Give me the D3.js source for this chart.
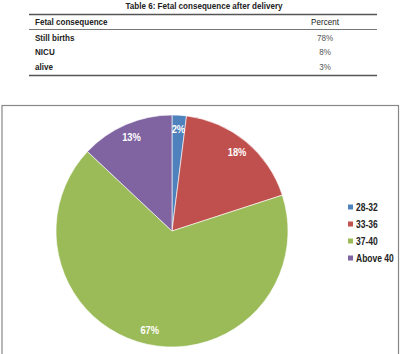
<!DOCTYPE html>
<html>
<head>
<meta charset="utf-8">
<script src="https://cdn.jsdelivr.net/npm/d3@7"></script>
<style>
  body { margin: 0; background: #fff; }
  svg { display: block; font-family: "Liberation Sans", Arial, sans-serif; }
</style>
</head>
<body>
<script>
// table data
const tableTitle = "Table 6: Fetal consequence after delivery";
const tableHeader = ["Fetal consequence", "Percent"];
const outcomes = ["Still births", "NICU", "alive"];
const outcomePercent = ["78%", "8%", "3%"];

// pie data
const ageGroups = ["28-32", "33-36", "37-40", "Above 40"];
const agePercent = [2, 18, 67, 13];
const sliceColors = ["#4F81BD", "#C0504D", "#9BBB59", "#8064A2"];

const width = 408;
const height = 354;
const sx = 0.85; // squeeze text a bit, source uses a narrow face

const svg = d3.select("body").append("svg")
  .attr("width", width)
  .attr("height", height);

const at = (x, y) => `translate(${x},${y}) scale(${sx},1)`;

// ---- table ----
const tbl = svg.append("g");
const tx0 = 29, tx1 = 377;

tbl.append("text")
  .attr("transform", at(204, 9))
  .attr("text-anchor", "middle")
  .attr("font-size", 9.5).attr("font-weight", "bold")
  .attr("fill", "#222")
  .text(tableTitle);

tbl.append("line").attr("x1", tx0).attr("x2", tx1).attr("y1", 14.5).attr("y2", 14.5)
  .attr("stroke", "#555").attr("stroke-width", 1.5);
tbl.append("line").attr("x1", tx0).attr("x2", tx1).attr("y1", 29.5).attr("y2", 29.5)
  .attr("stroke", "#777").attr("stroke-width", 1);
tbl.append("line").attr("x1", tx0).attr("x2", tx1).attr("y1", 75.5).attr("y2", 75.5)
  .attr("stroke", "#555").attr("stroke-width", 1.5);

tbl.append("text").attr("transform", at(35, 25))
  .attr("font-size", 9.5).attr("font-weight", "bold").attr("fill", "#222")
  .text(tableHeader[0]);
tbl.append("text").attr("transform", at(325, 25))
  .attr("text-anchor", "middle")
  .attr("font-size", 9.5).attr("fill", "#222")
  .text(tableHeader[1]);

const rowY = d3.scalePoint().domain(outcomes).range([40.5, 70]);

tbl.selectAll("text.rowlabel")
  .data(outcomes)
  .enter().append("text")
  .attr("class", "rowlabel")
  .attr("transform", d => at(35, rowY(d)))
  .attr("font-size", 9.5).attr("font-weight", "bold").attr("fill", "#222")
  .text(d => d);

tbl.selectAll("text.rowval")
  .data(outcomes)
  .enter().append("text")
  .attr("class", "rowval")
  .attr("transform", d => at(325, rowY(d)))
  .attr("text-anchor", "middle")
  .attr("font-size", 9.5).attr("fill", "#555")
  .text((d, i) => outcomePercent[i]);

// ---- chart frame ----
svg.append("rect")
  .attr("x", 2).attr("y", 105.5)
  .attr("width", 396.5).attr("height", 260)
  .attr("fill", "#fff")
  .attr("stroke", "#888").attr("stroke-width", 1.2);

// ---- pie ----
const cx = 172, cy = 231, r = 116;
const color = d3.scaleOrdinal().domain(ageGroups).range(sliceColors);

const pie = d3.pie().sort(null).value(d => d.v);
const arcs = pie(ageGroups.map((g, i) => ({ g: g, v: agePercent[i] })));
const arc = d3.arc().innerRadius(0).outerRadius(r);
const labelArc = d3.arc().innerRadius(102).outerRadius(102);

const pg = svg.append("g").attr("transform", `translate(${cx},${cy})`);

pg.selectAll("path")
  .data(arcs)
  .enter().append("path")
  .attr("d", arc)
  .attr("fill", d => color(d.data.g))
  .attr("stroke", "#fff")
  .attr("stroke-width", 0.6);

pg.selectAll("text")
  .data(arcs)
  .enter().append("text")
  .attr("transform", d => { const c = labelArc.centroid(d); return at(c[0], c[1]); })
  .attr("text-anchor", "middle")
  .attr("dy", "0.35em")
  .attr("font-size", 11).attr("font-weight", "bold")
  .attr("fill", "#fff")
  .text(d => d.data.v + "%");

// ---- legend ----
const legY = d3.scalePoint().domain(ageGroups).range([207, 258]);
const leg = svg.append("g");

leg.selectAll("rect")
  .data(ageGroups)
  .enter().append("rect")
  .attr("x", 348).attr("y", d => legY(d) - 2.5)
  .attr("width", 5).attr("height", 5)
  .attr("fill", d => color(d));

leg.selectAll("text")
  .data(ageGroups)
  .enter().append("text")
  .attr("transform", d => at(356, legY(d)))
  .attr("dy", "0.35em")
  .attr("font-size", 10).attr("font-weight", "bold")
  .attr("fill", "#222")
  .text(d => d);
</script>
</body>
</html>
